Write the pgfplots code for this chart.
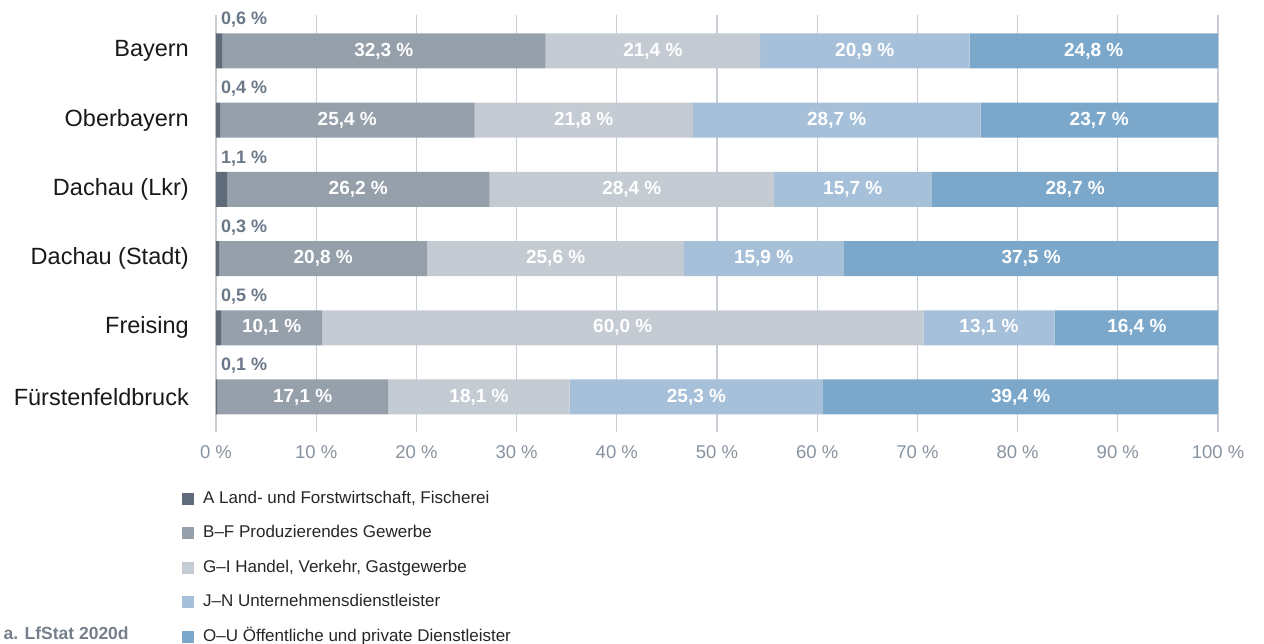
\documentclass[border=0pt]{standalone}
\usepackage{fontspec}
\setmainfont{Liberation Sans}
\usepackage{pgfplots}
\pgfplotsset{compat=1.18}
\usepackage{pgfplotstable}

\definecolor{cA}{HTML}{5F6B78}
\definecolor{cB}{HTML}{95A0AB}
\definecolor{cG}{HTML}{C5CBD3}
\definecolor{cJ}{HTML}{A7C0D9}
\definecolor{cO}{HTML}{7BA7CB}
\definecolor{gridc}{HTML}{C8CDD6}
\definecolor{tickc}{HTML}{8893A0}
\definecolor{smallc}{HTML}{6A7888}
\definecolor{srcc}{HTML}{75808C}

\pgfplotstableread{
y A B G J O
0 0.6 32.3 21.4 20.9 24.8
1 0.4 25.4 21.8 28.7 23.7
2 1.1 26.2 28.4 15.7 28.7
3 0.3 20.8 25.6 15.9 37.5
4 0.5 10.1 60.0 13.1 16.4
5 0.1 17.1 18.1 25.3 39.4
}\data

\pgfplotsset{
  common/.style={
    at={(216pt,212pt)}, anchor=south west,
    width=1002pt, height=417pt, scale only axis,
    xmin=0, xmax=100, ymin=-0.52, ymax=5.506, y dir=reverse,
  },
  lab/.style={
    only marks, mark=none, point meta=explicit,
    nodes near coords={\pgfmathprintnumber[fixed,fixed zerofill,precision=1,use comma,assume math mode=true]{\pgfplotspointmeta}\ \%},
    every node near coord/.append style={anchor=center, inner sep=0pt, text=white,
      font=\bfseries\fontsize{19}{21}\selectfont},
  },
}

\begin{document}
\begin{tikzpicture}
\useasboundingbox (0,0) rectangle (1264pt,644pt);
\begin{axis}[
  common,
  xbar stacked, bar width=35pt,
  axis line style={draw=none},
  xtick={0,10,...,100},
  xticklabels={0 \%,10 \%,20 \%,30 \%,40 \%,50 \%,60 \%,70 \%,80 \%,90 \%,100 \%},
  xmajorgrids, major grid style={color=gridc, line width=1.3pt},
  major tick length=0pt,
  ytick={0,...,5},
  yticklabels={Bayern,Oberbayern,Dachau (Lkr),Dachau (Stadt),Freising,Fürstenfeldbruck},
  yticklabel style={font=\fontsize{23.5}{25}\selectfont, text=black!90, inner sep=0pt, xshift=-27pt},
  xticklabel style={font=\fontsize{18.5}{20}\selectfont, text=tickc, inner sep=0pt, yshift=-13pt},
  legend image code/.code={\fill[#1] (0pt,-6pt) rectangle (12pt,6pt);},
  legend cell align=left,
  legend style={at={(0,0)}, anchor=north west, xshift=-34pt, yshift=-59pt,
    draw=none, fill=none, inner sep=0pt, row sep=19.5pt, column sep=9pt,
    font=\fontsize{17}{18}\selectfont, text=black!85,
    nodes={inner sep=0pt, text height=12pt, text depth=3pt}},
]
\addplot[fill=cA, draw=none] table[x=A, y=y] {\data};
\addlegendentry{A Land- und Forstwirtschaft, Fischerei}
\addplot[fill=cB, draw=none] table[x=B, y=y] {\data};
\addlegendentry{B–F Produzierendes Gewerbe}
\addplot[fill=cG, draw=none] table[x=G, y=y] {\data};
\addlegendentry{G–I Handel, Verkehr, Gastgewerbe}
\addplot[fill=cJ, draw=none] table[x=J, y=y] {\data};
\addlegendentry{J–N Unternehmensdienstleister}
\addplot[fill=cO, draw=none] table[x=O, y=y] {\data};
\addlegendentry{O–U Öffentliche und private Dienstleister}
\end{axis}

\begin{axis}[common, hide axis, clip=false]
\addplot[lab] table[x expr={\thisrow{A}+0.5*\thisrow{B}}, y=y, meta=B] {\data};
\addplot[lab] table[x expr={\thisrow{A}+\thisrow{B}+0.5*\thisrow{G}}, y=y, meta=G] {\data};
\addplot[lab] table[x expr={\thisrow{A}+\thisrow{B}+\thisrow{G}+0.5*\thisrow{J}}, y=y, meta=J] {\data};
\addplot[lab] table[x expr={\thisrow{A}+\thisrow{B}+\thisrow{G}+\thisrow{J}+0.5*\thisrow{O}}, y=y, meta=O] {\data};
\addplot[lab, every node near coord/.append style={anchor=west, text=smallc,
    font=\bfseries\fontsize{18}{20}\selectfont}]
  table[x expr=0.5, y expr={\thisrow{y}-0.45}, meta=A] {\data};
\end{axis}

\node[anchor=base west, font=\bfseries\fontsize{17.5}{20}\selectfont, text=srcc]
  at (0pt,4pt) {a. LfStat 2020d};
\end{tikzpicture}
\end{document}
